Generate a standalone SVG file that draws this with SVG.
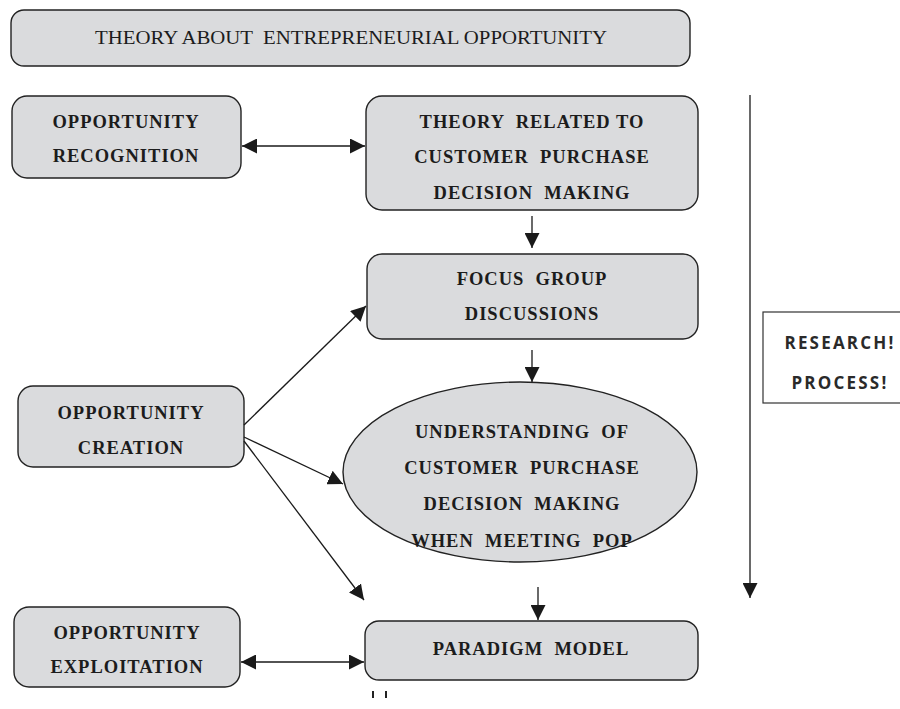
<svg xmlns="http://www.w3.org/2000/svg" width="900" height="709" viewBox="0 0 900 709">
  <defs>
    <marker id="ahL" viewBox="0 0 10 10" refX="10" refY="5" markerWidth="15" markerHeight="15" markerUnits="userSpaceOnUse" orient="auto-start-reverse">
      <path d="M0,0 L10,5 L0,10 z" fill="#1a1a1a"/>
    </marker>
  </defs>
  <style>
    text { white-space: pre; }
    .box { fill: #dadbdd; stroke: #222; stroke-width: 1.4; }
    .lbl { font-family: "Liberation Serif", "Times New Roman", serif; font-weight: bold; font-size: 18.5px; letter-spacing: 1px; fill: #1c1c1c; text-anchor: middle; }
    .title { font-family: "Liberation Serif", "Times New Roman", serif; font-size: 19px; fill: #1c1c1c; text-anchor: middle; }
    .side { font-family: "Open Sans", "DejaVu Sans", sans-serif; font-weight: bold; font-size: 17px; letter-spacing: 2.2px; fill: #2a2a2a; text-anchor: middle; }
    .edge { stroke: #1a1a1a; stroke-width: 1.3; fill: none; }
  </style>
  <rect width="900" height="709" fill="#ffffff"/>

  <g id="title">
    <rect class="box" x="11" y="10" width="679" height="56" rx="13"/>
    <text class="title" x="351" y="44" textLength="512" lengthAdjust="spacingAndGlyphs">THEORY ABOUT  ENTREPRENEURIAL OPPORTUNITY</text>
  </g>

  <g id="recognition">
    <rect class="box" x="12" y="96" width="229" height="82" rx="15"/>
    <text class="lbl" x="126" y="128">OPPORTUNITY</text>
    <text class="lbl" x="126" y="162">RECOGNITION</text>
  </g>

  <g id="theory">
    <rect class="box" x="366" y="96" width="332" height="114" rx="16"/>
    <text class="lbl" x="532" y="128">THEORY  RELATED TO</text>
    <text class="lbl" x="532" y="163">CUSTOMER  PURCHASE</text>
    <text class="lbl" x="532" y="199">DECISION  MAKING</text>
  </g>

  <g id="focus">
    <rect class="box" x="367" y="254" width="331" height="85" rx="15"/>
    <text class="lbl" x="532" y="285">FOCUS  GROUP</text>
    <text class="lbl" x="532" y="320">DISCUSSIONS</text>
  </g>

  <g id="understanding">
    <ellipse class="box" cx="520" cy="472" rx="177" ry="90"/>
    <text class="lbl" x="522" y="438">UNDERSTANDING  OF</text>
    <text class="lbl" x="522" y="474">CUSTOMER  PURCHASE</text>
    <text class="lbl" x="522" y="510">DECISION  MAKING</text>
    <text class="lbl" x="522" y="547">WHEN  MEETING  POP</text>
  </g>

  <g id="creation">
    <rect class="box" x="18" y="386" width="226" height="81" rx="15"/>
    <text class="lbl" x="131" y="419">OPPORTUNITY</text>
    <text class="lbl" x="131" y="454">CREATION</text>
  </g>

  <g id="exploitation">
    <rect class="box" x="14" y="607" width="226" height="80" rx="15"/>
    <text class="lbl" x="127" y="639">OPPORTUNITY</text>
    <text class="lbl" x="127" y="673">EXPLOITATION</text>
  </g>

  <g id="paradigm">
    <rect class="box" x="365" y="621" width="333" height="59" rx="14"/>
    <text class="lbl" x="531" y="655">PARADIGM  MODEL</text>
  </g>

  <g id="research">
    <rect x="763" y="312" width="150" height="91" fill="#ffffff" stroke="#333" stroke-width="1.2"/>
    <text class="side" x="840" y="349">RESEARCH!</text>
    <text class="side" x="840" y="389">PROCESS!</text>
  </g>

  <g id="connectors">
    <line class="edge" x1="242" y1="146" x2="365" y2="146" marker-start="url(#ahL)" marker-end="url(#ahL)"/>
    <line class="edge" x1="532" y1="216" x2="532" y2="248" marker-end="url(#ahL)"/>
    <line class="edge" x1="532" y1="350" x2="532" y2="382" marker-end="url(#ahL)"/>
    <line class="edge" x1="244" y1="425" x2="366" y2="306" marker-end="url(#ahL)"/>
    <line class="edge" x1="244" y1="437" x2="343" y2="484" marker-end="url(#ahL)"/>
    <line class="edge" x1="244" y1="441" x2="364" y2="600" marker-end="url(#ahL)"/>
    <line class="edge" x1="538" y1="587" x2="538" y2="620" marker-end="url(#ahL)"/>
    <line class="edge" x1="241" y1="662" x2="364" y2="662" marker-start="url(#ahL)" marker-end="url(#ahL)"/>
    <line class="edge" x1="750" y1="95" x2="750" y2="598" marker-end="url(#ahL)"/>
  </g>

  <g id="marks" stroke="#222" stroke-width="2">
    <line x1="373" y1="691" x2="373" y2="698"/>
    <line x1="386" y1="691" x2="386" y2="698"/>
  </g>
</svg>
